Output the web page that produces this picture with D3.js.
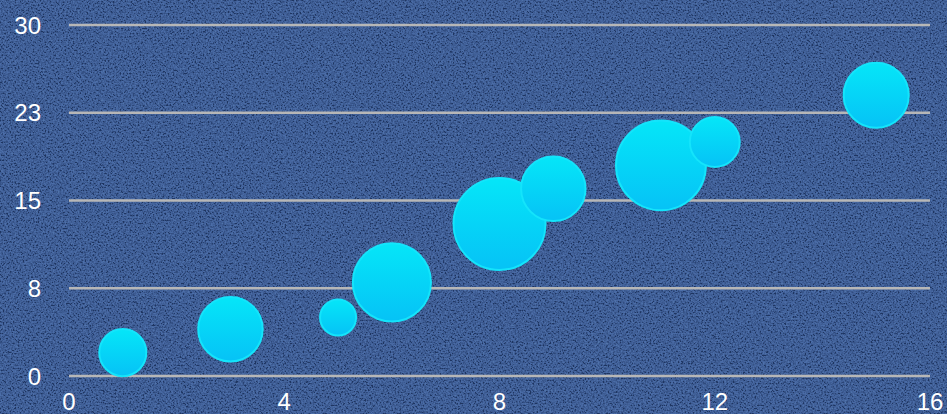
<!DOCTYPE html>
<html>
<head>
<meta charset="utf-8">
<script src="https://cdn.jsdelivr.net/npm/d3@7"></script>
<style>
  html, body { margin: 0; padding: 0; background: #2b4a85; }
  #chart { width: 947px; height: 414px; }
</style>
</head>
<body>
<div id="chart"></div>
<script>
// bubble data
var xValues = [1, 3, 5, 6, 8, 9, 11, 12, 15];
var yValues = [2, 4, 5, 8, 13, 16, 18, 20, 24];
var sizes = [6, 11, 3.6, 16, 22, 11, 21, 6.7, 11.2];
var xTicks = [0, 4, 8, 12, 16];
var yTicks = [0, 7.5, 15, 22.5, 30];
var yTickLabels = ["0", "8", "15", "23", "30"];

var width = 947, height = 414;
var margin = { top: 25, left: 69, bottom: 38, right: 17 };

var svg = d3.select("#chart")
  .append("svg")
  .attr("width", width)
  .attr("height", height);

var defs = svg.append("defs");

// speckled background texture, tinted blue
var filt = defs.append("filter")
  .attr("id", "noise")
  .attr("x", 0).attr("y", 0).attr("width", "100%").attr("height", "100%");
filt.append("feTurbulence")
  .attr("type", "fractalNoise")
  .attr("baseFrequency", 0.6)
  .attr("numOctaves", 2)
  .attr("seed", 7);
filt.append("feColorMatrix")
  .attr("type", "matrix")
  .attr("values", "0.9 0 0 0 -0.27  1.5 0 0 0 -0.45  2.5 0 0 0 -0.75  0 0 0 0 0.28");

var grad = defs.append("linearGradient")
  .attr("id", "bubbleGrad")
  .attr("x1", 0).attr("y1", 0).attr("x2", 0).attr("y2", 1);
grad.append("stop").attr("offset", "0%").attr("stop-color", "#05e6f8");
grad.append("stop").attr("offset", "100%").attr("stop-color", "#06c2f6");

svg.append("rect")
  .attr("width", width).attr("height", height)
  .attr("fill", "#2a4987");
svg.append("rect")
  .attr("width", width).attr("height", height)
  .attr("filter", "url(#noise)");

var x = d3.scaleLinear()
  .domain([0, 16])
  .range([margin.left, width - margin.right]);

var y = d3.scaleLinear()
  .domain([0, 30])
  .range([height - margin.bottom, margin.top]);

var r = d3.scaleSqrt()
  .domain([0, 22])
  .range([0, 47]);

// gridlines
svg.append("g")
  .selectAll("line")
  .data(yTicks)
  .enter()
  .append("line")
  .attr("x1", x(0))
  .attr("x2", x(16))
  .attr("y1", function(d) { return y(d); })
  .attr("y2", function(d) { return y(d); })
  .attr("stroke", "#b7b7b7")
  .attr("stroke-width", 2.5);

// y labels
svg.append("g")
  .selectAll("text")
  .data(yTicks)
  .enter()
  .append("text")
  .attr("x", 41)
  .attr("y", function(d) { return y(d); })
  .attr("dy", "0.36em")
  .attr("text-anchor", "end")
  .attr("font-family", "Liberation Sans, Arial, sans-serif")
  .attr("font-size", 24)
  .attr("fill", "#ffffff")
  .text(function(d, i) { return yTickLabels[i]; });

// x labels
svg.append("g")
  .selectAll("text")
  .data(xTicks)
  .enter()
  .append("text")
  .attr("x", function(d) { return x(d); })
  .attr("y", 410)
  .attr("text-anchor", "middle")
  .attr("font-family", "Liberation Sans, Arial, sans-serif")
  .attr("font-size", 24)
  .attr("fill", "#ffffff")
  .text(function(d) { return d; });

// bubbles
var pts = xValues.map(function(v, i) {
  return { x: v, y: yValues[i], s: sizes[i] };
});

svg.append("g")
  .selectAll("circle")
  .data(pts)
  .enter()
  .append("circle")
  .attr("cx", function(d) { return x(d.x); })
  .attr("cy", function(d) { return y(d.y); })
  .attr("r", function(d) { return r(d.s) - 1; })
  .attr("fill", "url(#bubbleGrad)")
  .attr("stroke", "#14e4fb")
  .attr("stroke-width", 2);
</script>
</body>
</html>
